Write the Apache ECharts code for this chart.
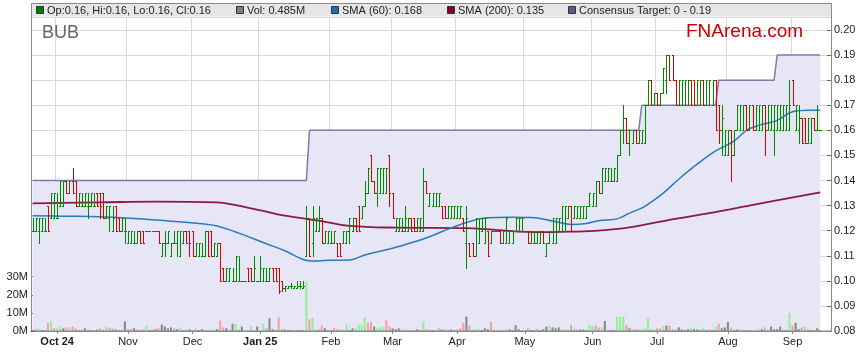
<!DOCTYPE html>
<html><head><meta charset="utf-8">
<script src="https://cdn.jsdelivr.net/npm/echarts@6/dist/echarts.min.js"></script>
<style>html,body{margin:0;padding:0;background:#fff}#c{width:859px;height:363px}</style>
</head><body><div id="c"></div>
<script>
// ---- axis categories: weekday slots from 19 Sep 2024 ----
const startDate = '2024-09-19';
const numSlots = 260;
const monthTickLabels = ['Oct 24','Nov','Dec','Jan 25','Feb','Mar','Apr','May','Jun','Jul','Aug','Sep'];
const priceTicks = {min:0.08, max:0.2052, step:0.01};
const volTicks = {min:0, max:30, step:10};

// ---- OHLC (index 0..256) ----
const priceHigh = [
.125,.125,.125,.125,.125,.130,.135,.135,.135,.140,
.140,.140,.140,.145,.140,.135,.135,.135,.135,.135,
.135,.135,.135,.135,.130,.130,.130,.130,.125,.125,
.125,.120,.120,.120,.120,.120,.120,.120,.120,.120,
.120,.120,.115,.120,.120,.115,.120,.120,.120,.120,
.120,.120,.120,.115,.115,.115,.120,.120,.120,.115,
.115,.115,.105,.105,.105,.105,.110,.110,.100,.100,
.105,.105,.110,.100,.110,.105,.105,.105,.105,.105,
.105,.100,.098,.098,.099,.098,.100,.100,.100,.130,
.125,.130,.125,.130,.125,.120,.120,.120,.120,.115,
.115,.120,.120,.125,.125,.125,.130,.130,.140,.145,
.150,.140,.145,.145,.145,.145,.150,.135,.125,.125,
.125,.130,.125,.125,.125,.125,.125,.145,.140,.135,
.135,.135,.135,.130,.130,.130,.130,.130,.130,.130,
.125,.130,.115,.115,.125,.125,.125,.125,.120,.120,
.120,.120,.120,.120,.125,.120,.120,.125,.125,.125,
.120,.120,.120,.120,.120,.120,.120,.115,.120,.125,
.125,.125,.130,.130,.130,.130,.130,.130,.130,.130,
.130,.135,.135,.140,.140,.145,.145,.145,.145,.145,
.150,.160,.170,.165,.160,.160,.160,.160,.160,.170,
.180,.180,.175,.175,.175,.185,.190,.190,.190,.180,
.180,.180,.180,.180,.180,.180,.180,.180,.180,.180,
.180,.180,.180,.170,.170,.160,.160,.160,.160,.170,
.170,.170,.170,.170,.170,.170,.170,.170,.170,.170,
.170,.170,.170,.170,.170,.170,.180,.180,.170,.170,
.165,.165,.165,.165,.165,.170,.160];
const priceLow = [
.120,.120,.115,.120,.120,.120,.125,.125,.125,.130,
.130,.135,.135,.135,.130,.130,.130,.130,.125,.130,
.130,.130,.125,.125,.125,.120,.120,.120,.120,.120,
.115,.115,.115,.115,.115,.115,.115,.120,.120,.120,
.120,.115,.110,.110,.115,.110,.115,.110,.110,.115,
.115,.110,.110,.110,.110,.110,.110,.110,.110,.110,
.110,.100,.100,.100,.100,.100,.100,.100,.100,.100,
.100,.100,.100,.100,.100,.100,.100,.100,.100,.100,
.095,.096,.096,.097,.097,.097,.097,.097,.097,.110,
.110,.110,.120,.120,.115,.115,.115,.115,.115,.110,
.110,.115,.115,.115,.120,.120,.120,.125,.130,.135,
.140,.135,.130,.135,.135,.135,.130,.125,.120,.120,
.120,.120,.120,.120,.120,.120,.120,.120,.135,.130,
.130,.130,.130,.125,.125,.125,.125,.125,.125,.125,
.120,.105,.110,.110,.110,.115,.120,.115,.110,.115,
.120,.120,.115,.115,.115,.115,.115,.120,.120,.120,
.120,.115,.115,.115,.115,.115,.115,.110,.115,.115,
.115,.120,.120,.120,.125,.120,.125,.125,.125,.125,
.125,.130,.130,.130,.135,.135,.140,.140,.140,.140,
.140,.150,.155,.155,.150,.155,.155,.155,.155,.155,
.170,.170,.170,.170,.170,.175,.175,.180,.180,.170,
.170,.170,.170,.170,.170,.170,.170,.170,.170,.170,
.170,.170,.160,.155,.150,.150,.150,.140,.150,.160,
.160,.160,.160,.160,.160,.160,.160,.160,.150,.160,
.160,.150,.160,.160,.160,.160,.160,.170,.160,.155,
.155,.155,.155,.155,.160,.160,.160];
const priceOpen = [
.120,.120,.120,.120,.120,.130,.125,.125,.125,.130,
.130,.140,.135,.140,.140,.130,.130,.130,.130,.130,
.130,.135,.135,.135,.125,.125,.120,.130,.125,.120,
.120,.115,.115,.115,.115,.120,.120,.120,.120,.120,
.120,.120,.110,.115,.115,.110,.115,.115,.110,.115,
.120,.120,.120,.110,.110,.110,.110,.120,.120,.110,
.110,.115,.105,.100,.100,.100,.100,.100,.100,.100,
.105,.105,.100,.100,.100,.100,.100,.100,.105,.105,
.105,.100,.097,.097,.098,.097,.097,.098,.097,.110,
.125,.115,.120,.120,.125,.115,.115,.115,.115,.115,
.115,.115,.115,.120,.120,.125,.130,.125,.130,.135,
.150,.140,.135,.135,.135,.135,.150,.135,.120,.120,
.120,.120,.120,.125,.125,.120,.120,.120,.140,.130,
.130,.130,.130,.130,.130,.125,.125,.125,.125,.125,
.125,.115,.115,.115,.110,.115,.120,.115,.120,.115,
.120,.120,.120,.115,.115,.115,.115,.120,.120,.120,
.120,.120,.115,.115,.115,.115,.120,.110,.115,.115,
.115,.120,.120,.120,.125,.130,.125,.125,.125,.125,
.125,.130,.130,.130,.140,.135,.140,.140,.140,.140,
.140,.150,.160,.165,.155,.155,.160,.155,.155,.155,
.170,.180,.170,.175,.170,.175,.180,.190,.190,.180,
.170,.170,.170,.170,.180,.180,.170,.170,.180,.170,
.170,.170,.180,.170,.160,.150,.150,.160,.150,.160,
.160,.160,.170,.160,.170,.160,.160,.160,.170,.160,
.160,.160,.160,.160,.160,.160,.160,.180,.160,.160,
.165,.165,.155,.155,.165,.160,.160];
const priceClose = [
.120,.125,.125,.125,.120,.120,.135,.135,.125,.140,
.140,.135,.140,.135,.130,.135,.130,.135,.130,.135,
.130,.130,.130,.125,.130,.130,.125,.120,.120,.125,
.120,.120,.120,.115,.120,.115,.115,.120,.120,.120,
.120,.115,.115,.115,.120,.115,.115,.120,.120,.120,
.115,.115,.110,.115,.115,.110,.120,.110,.110,.115,
.115,.100,.100,.105,.105,.100,.110,.100,.100,.100,
.100,.100,.105,.100,.105,.105,.100,.105,.100,.100,
.096,.097,.098,.098,.098,.098,.098,.098,.098,.125,
.110,.125,.125,.125,.115,.120,.120,.115,.120,.110,
.110,.120,.120,.125,.125,.120,.120,.130,.135,.145,
.140,.135,.145,.145,.145,.145,.135,.125,.125,.125,
.120,.125,.125,.120,.120,.125,.125,.140,.135,.135,
.135,.135,.135,.125,.125,.130,.130,.130,.130,.130,
.120,.125,.110,.110,.125,.125,.125,.125,.110,.120,
.120,.120,.115,.120,.125,.120,.120,.125,.125,.125,
.120,.115,.120,.115,.120,.120,.115,.115,.120,.125,
.125,.125,.130,.130,.130,.120,.130,.130,.130,.130,
.130,.135,.135,.140,.135,.145,.145,.145,.140,.145,
.150,.160,.165,.155,.160,.160,.155,.160,.160,.170,
.180,.170,.175,.170,.175,.185,.190,.180,.180,.170,
.180,.180,.180,.180,.170,.170,.180,.180,.170,.180,
.180,.180,.160,.160,.165,.160,.160,.150,.160,.170,
.170,.170,.160,.170,.160,.170,.170,.170,.160,.170,
.170,.170,.170,.170,.170,.170,.170,.170,.170,.165,
.155,.155,.165,.165,.160,.160,.160];

// ---- volume (millions) and direction (1 up, -1 down, 0 unchanged) ----
const volume = [
0.7,0.7,1.2,0.5,0.5,4.5,5.5,1.5,1.5,2.5,
1.5,2,2,2.5,1.5,0.3,0.5,1.5,1,0.5,
0.5,0.8,1.5,0.5,2.5,1.8,1.3,0.8,0.3,0.3,
5.3,1,1,1.5,0.8,0.5,1,3,0.5,0.5,
1,1.5,3.5,2.5,1.5,2,1.5,1,2,0.3,
0.3,1,0.5,1.5,0.5,1,0.3,0.5,1,0.5,
1,6,2,1.5,0.5,4,4,1,2.5,0,
0,2.5,0.5,2.5,0,4,1.5,7,1,0.3,
7.5,1,0.8,0.5,0.5,0.8,0.5,0.5,0.5,27.5,
6.5,7.5,0.3,1,3,1.5,0.3,0.3,1.5,1,
1,0.3,3.5,0.5,1.5,1.5,3.5,3.5,7.5,4.5,
5,2.5,1.5,2,2,6,2.5,1.5,1,1.5,
1,0.5,0.5,0.5,0.3,1,0.5,5.5,1,0.5,
0.5,0.3,1.5,0.8,1.2,0.3,0.8,0.5,0.8,1.5,
4.5,8,3,0.5,1,1.2,0.5,1.5,1,5,
1,0.2,0.2,0.5,1,1,0.3,3.2,1,0.2,
0.2,1.5,0.5,0.2,1,0.5,1,2.5,3,2,
1.5,2,1,1,0.5,3.5,1.5,0.5,0.8,0.8,
0.5,3.5,2.5,3,2,2,5.5,0.2,0.5,0.5,
8,8,8,3.5,1.5,1,0.8,1,1,1.5,
7,0.8,1,1.5,1.5,3,3,3,1,0.5,
2,0.8,0.5,1,2,1,0.8,0.5,2,0.5,
1,0.5,2.5,4,1.5,2,5,2,0.8,0.8,
1,0.3,0.5,0.5,0.3,0.3,1,1,2,1,
2.5,1,1,2.5,0.5,0.3,10,3,4.5,1,
2,2.5,1,0.5,0.5,1.5,0.485];
const volumeDir = [
-1,0,1,0,0,-1,1,-1,1,1,
0,-1,1,-1,-1,0,0,0,1,0,
-1,0,-1,0,1,-1,-1,0,0,0,
0,-1,-1,0,-1,0,-1,1,0,0,
0,-1,0,0,0,0,-1,0,1,0,
0,0,-1,1,0,0,0,-1,1,1,
0,-1,-1,0,0,0,1,-1,0,0,
0,1,-1,0,0,1,-1,0,0,0,
-1,-1,0,0,0,1,0,0,0,1,
-1,1,0,-1,-1,0,0,0,-1,-1,
1,0,1,0,0,1,1,1,1,-1,
-1,0,1,1,1,-1,-1,0,0,0,
1,-1,-1,-1,0,0,0,1,-1,0,
0,-1,-1,0,1,0,0,0,-1,-1,
-1,0,-1,0,1,1,0,0,0,-1,
1,0,0,-1,1,0,0,0,0,0,
0,-1,0,0,-1,0,0,0,1,0,
0,0,1,1,0,-1,1,0,0,0,
0,1,1,-1,-1,1,0,0,0,0,
1,1,1,-1,0,1,0,-1,1,1,
1,-1,1,-1,-1,1,0,-1,-1,0,
0,0,0,0,1,0,0,0,1,0,
-1,0,1,-1,0,0,0,-1,1,0,
1,0,-1,0,-1,-1,1,0,-1,1,
0,0,0,0,0,0,1,-1,0,0,
-1,1,-1,0,-1,0,0];

// ---- moving averages: [slot index, value] ----
const sma60 = [[0,0.126],[10,0.1258],[22,0.1256],[33,0.1249],[44,0.1239],[55,0.1228],[60,0.1219],[66,0.1195],[71,0.1172],[76,0.1148],[82,0.112],[88,0.1085],[91,0.1079],[96,0.1082],[103,0.1083],[108,0.1103],[117,0.113],[125,0.1159],[129,0.1176],[138,0.122],[148,0.1252],[155,0.1254],[162,0.1253],[169,0.1239],[175,0.1225],[180,0.1229],[184,0.1240],[190,0.1247],[194,0.127],[198,0.129],[200,0.1305],[205,0.135],[210,0.1405],[216,0.1465],[222,0.1518],[228,0.1557],[232,0.160],[236,0.162],[242,0.164],[247,0.1674],[252,0.168],[256,0.168]];
const sma200 = [[0,0.1309],[22,0.1313],[40,0.1316],[60,0.1313],[66,0.1302],[71,0.1289],[76,0.1276],[81,0.1262],[88,0.1249],[93,0.124],[103,0.1219],[119,0.1212],[141,0.121],[163,0.1194],[175,0.1196],[184,0.1200],[194,0.1213],[207,0.1243],[220,0.127],[235,0.1305],[256,0.1353]];

// ---- consensus target steps: [from slot, value], last slot ----
const consensusSteps = [[0,0.14],[90,0.16],[198,0.17],[223,0.18],[242,0.19]];
const consensusLast = 256;

// ---- legend texts ----
const legendItems = [
  {text:'Op:0.16, Hi:0.16, Lo:0.16, Cl:0.16', color:'#008000'},
  {text:'Vol: 0.485M', color:'#808080'},
  {text:'SMA (60): 0.168', color:'#1f6db3'},
  {text:'SMA (200): 0.135', color:'#800030'},
  {text:'Consensus Target: 0 - 0.19', color:'#5a5a8a'}
];
const legendX = [36, 236, 331, 447, 568];

// ---------------------------------------------------------------
const dates = [];
{ const d = new Date(startDate + 'T00:00:00Z');
  while (dates.length < numSlots) { const w = d.getUTCDay(); if (w !== 0 && w !== 6) dates.push(d.toISOString().slice(0,10)); d.setUTCDate(d.getUTCDate()+1); } }
const monthLabelAt = {};
{ let k = 0; for (let i = 1; i < dates.length; i++) { if (dates[i].slice(5,7) !== dates[i-1].slice(5,7)) { monthLabelAt[i] = monthTickLabels[k++]; } } }
const isMonthStart = (i) => monthLabelAt[i] !== undefined;

const consensus = [];
for (let i = 0; i <= consensusLast; i++) { let v = null; for (const s of consensusSteps) if (s[0] <= i) v = s[1]; consensus.push(v); }

const ohlcData = priceOpen.map((o, i) => [i, o, priceHigh[i], priceLow[i], priceClose[i]]);
const volColors = {'1':'#96ee96', '-1':'#f5a0a0', '0':'#858585'};
const volData = volume.map((v, i) => ({value: v, itemStyle: {color: volColors[String(volumeDir[i])]}}));

const FONT = '"Liberation Sans", Arial, sans-serif';
const chart = echarts.init(document.getElementById('c'), null, {renderer:'canvas'});

const graphics = [
  {type:'rect', shape:{x:31, y:3, width:800, height:13.5}, style:{fill:'#e6e6e6'}, z:10, silent:true},
  {type:'rect', shape:{x:31.5, y:3.5, width:800, height:327.5}, style:{fill:null, stroke:'#8a8a8a', lineWidth:1}, z:10, silent:true},
  {type:'text', x:42, y:33, style:{text:'BUB', font:'18px ' + FONT, fill:'#666', textVerticalAlign:'middle'}, z:10},
  {type:'text', x:686, y:31.5, style:{text:'FNArena.com', font:'19px ' + FONT, fill:'#cc0000', textVerticalAlign:'middle'}, z:10}
];
legendItems.forEach((it, k) => {
  graphics.push({type:'rect', shape:{x:legendX[k]+0.5, y:6.5, width:7, height:7}, style:{fill:it.color, stroke:'#333', lineWidth:1}, z:11});
  graphics.push({type:'text', x:legendX[k]+11, y:10.5, style:{text:it.text, font:'11px ' + FONT, fill:'#222', textVerticalAlign:'middle'}, z:11});
});

chart.setOption({
  animation:false,
  textStyle:{fontFamily:FONT},
  grid:[
    {left:31, right:28, top:17, bottom:32},
    {left:31, right:28, top:276.7, height:54.3}
  ],
  xAxis:[
    {gridIndex:0, type:'category', data:dates, boundaryGap:true,
     axisLine:{lineStyle:{color:'#8a8a8a'}},
     axisTick:{show:true, interval:(i)=>isMonthStart(i), alignWithLabel:true, length:3, lineStyle:{color:'#8a8a8a'}},
     axisLabel:{interval:(i)=>isMonthStart(i), margin:5, fontSize:11, color:'#222',
       formatter:(v, i)=>{ const t = monthLabelAt[i] || ''; return t.length > 3 ? '{b|' + t + '}' : t; },
       rich:{b:{fontWeight:'bold', fontSize:11, color:'#222', fontFamily:FONT}}},
     splitLine:{show:true, interval:(i)=>isMonthStart(i), lineStyle:{color:'#d9d9d9'}}},
    {gridIndex:1, type:'category', data:dates, boundaryGap:true, show:false}
  ],
  yAxis:[
    {gridIndex:0, type:'value', position:'right', min:priceTicks.min, max:priceTicks.max, interval:priceTicks.step,
     axisLine:{show:true, lineStyle:{color:'#8a8a8a'}},
     axisTick:{show:true, inside:true, length:4, lineStyle:{color:'#666'}},
     axisLabel:{showMaxLabel:false, margin:3, fontSize:11, color:'#222', formatter:(v)=>v.toFixed(2)},
     splitLine:{show:true, lineStyle:{color:'#d9d9d9'}}},
    {gridIndex:1, type:'value', position:'left', min:volTicks.min, max:volTicks.max, interval:volTicks.step,
     axisLine:{show:false},
     axisTick:{show:true, inside:true, length:3, lineStyle:{color:'#333'}},
     axisLabel:{margin:3, fontSize:11, color:'#222', formatter:(v)=>v + 'M'},
     splitLine:{show:false}}
  ],
  graphic:graphics,
  series:[
    {name:'Consensus', type:'line', xAxisIndex:0, yAxisIndex:0, data:consensus, symbol:'none', z:1,
     lineStyle:{color:'#7c7ca6', width:1.5}, areaStyle:{color:'#e6e6f6', opacity:1, origin:'start'}},
    {name:'Vol', type:'bar', xAxisIndex:1, yAxisIndex:1, data:volData, barWidth:2, z:2},
    {name:'SMA200', type:'line', xAxisIndex:0, yAxisIndex:0, data:sma200, smooth:0.4, symbol:'none', z:3,
     lineStyle:{color:'#8c1a42', width:1.8}},
    {name:'SMA60', type:'line', xAxisIndex:0, yAxisIndex:0, data:sma60, smooth:0.4, symbol:'none', z:3,
     lineStyle:{color:'#2a7bbd', width:1.5}},
    {name:'Price', type:'custom', xAxisIndex:0, yAxisIndex:0, z:4, data:ohlcData,
     encode:{x:0, y:[1,2,3,4]},
     renderItem:function(params, api){
       const i = api.value(0), o = api.value(1), h = api.value(2), l = api.value(3), c = api.value(4);
       const pH = api.coord([i, h]), pL = api.coord([i, l]), pO = api.coord([i, o]), pC = api.coord([i, c]);
       const cx = Math.round(pH[0]);
       const x = cx + 0.5;
       const col = c >= o ? '#008800' : '#dd0000';
       const yo = Math.round(pO[1]) + 0.5, yc = Math.round(pC[1]) + 0.5;
       const yh = Math.round(pH[1]), yl = Math.round(pL[1]);
       const st = {stroke:col, lineWidth:1};
       return {type:'group', children:[
         {type:'line', shape:{x1:x, y1:yh, x2:x, y2:yl + 1}, style:st},
         {type:'line', shape:{x1:cx - 1, y1:yo, x2:cx + 1, y2:yo}, style:st},
         {type:'line', shape:{x1:cx, y1:yc, x2:cx + 2, y2:yc}, style:st}
       ]};
     }}
  ]
});
</script>
</body></html>
